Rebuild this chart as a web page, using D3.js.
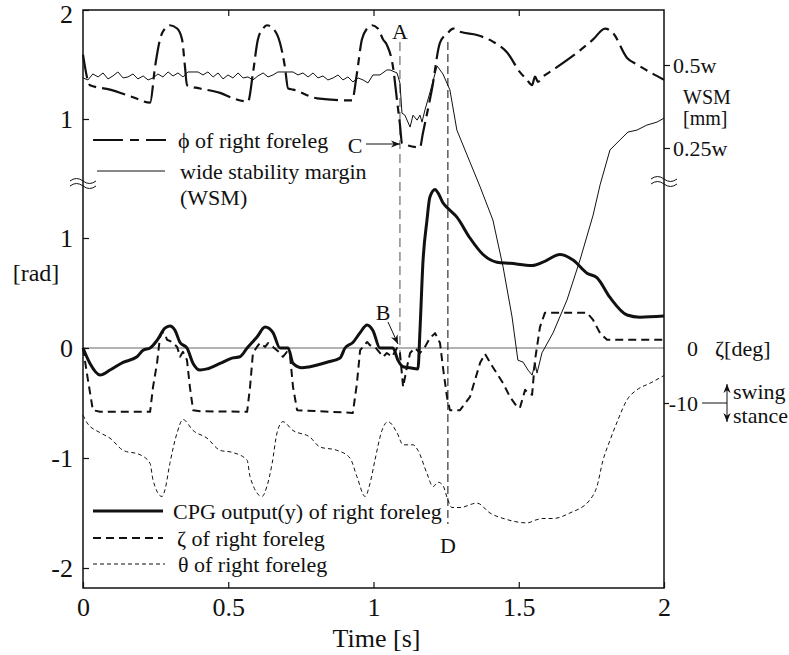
<!DOCTYPE html>
<html>
<head>
<meta charset="utf-8">
<script src="https://cdn.jsdelivr.net/npm/d3@7"></script>
<style>
  body { margin: 0; background: #fff; }
  text { font-family: "Liberation Serif", "Times New Roman", serif; fill: #111; }
</style>
</head>
<body>
<div id="chart"></div>
<script>
// ---- data: [time s, value] ----
// phi of right foreleg [rad], upper panel
const PHI = [[0,1.59],[.024,1.31],[.093,1.27],[.172,1.20],[.231,1.15],[.248,1.48],[.265,1.73],[.282,1.83],[.299,1.86],
  [.324,1.83],[.341,1.73],[.351,1.48],[.358,1.31],[.403,1.28],[.472,1.24],[.516,1.19],[.568,1.16],[.585,1.42],[.602,1.73],
  [.620,1.83],[.633,1.86],[.654,1.83],[.678,1.70],[.695,1.48],[.706,1.28],[.723,1.27],[.806,1.19],[.926,1.17],[.943,1.42],
  [.960,1.73],[.978,1.83],[.995,1.86],[1.015,1.83],[1.033,1.73],[1.046,1.68],[1.067,1.48],[1.081,1.17],[1.091,0.95],
  [1.098,0.78],[1.160,0.74],[1.170,0.87],[1.201,1.27],[1.229,1.70],[1.256,1.79],[1.274,1.83],[1.298,1.80],[1.356,1.77],
  [1.411,1.71],[1.460,1.61],[1.504,1.43],[1.528,1.36],[1.546,1.31],[1.556,1.39],[1.566,1.34],[1.580,1.38],[1.618,1.45],
  [1.711,1.63],[1.756,1.73],[1.797,1.83],[1.824,1.79],[1.873,1.56],[1.907,1.50],[2.0,1.36]];

// wide stability margin [fraction of w]
const WSM = [[0,.461],[.017,.455],[.034,.473],[.052,.464],[.069,.476],[.086,.458],[.103,.467],[.120,.479],[.138,.461],
  [.155,.464],[.172,.473],[.189,.458],[.207,.467],[.224,.455],[.241,.461],[.258,.473],[.275,.464],[.293,.479],[.310,.467],
  [.327,.476],[.344,.464],[.361,.479],[.379,.479],[.396,.479],[.413,.470],[.430,.479],[.448,.464],[.465,.476],[.482,.458],
  [.499,.470],[.516,.461],[.534,.476],[.551,.461],[.568,.464],[.585,.455],[.602,.467],[.620,.476],[.637,.464],[.654,.470],
  [.671,.479],[.688,.479],[.706,.479],[.723,.479],[.740,.470],[.757,.476],[.775,.464],[.792,.476],[.809,.461],[.826,.467],
  [.843,.455],[.861,.461],[.878,.470],[.895,.455],[.912,.464],[.929,.449],[.947,.461],[.964,.455],[.981,.446],[.998,.470],
  [1.022,.470],[1.046,.485],[1.057,.485],[1.081,.476],[1.091,.446],[1.098,.355],[1.108,.349],[1.126,.313],[1.136,.349],
  [1.150,.334],[1.160,.349],[1.167,.328],[1.177,.364],[1.194,.416],[1.219,.497],[1.239,.473],[1.263,.425],[1.287,.304],
  [1.322,.229],[1.367,.133],[1.411,.033],[1.446,-.108],[1.477,-.259],[1.497,-.389],[1.515,-.395],[1.532,-.419],
  [1.546,-.434],[1.556,-.398],[1.563,-.428],[1.580,-.367],[1.618,-.307],[1.666,-.208],[1.711,-.087],[1.756,.048],
  [1.780,.139],[1.814,.244],[1.848,.274],[1.876,.298],[1.907,.304],[1.941,.319],[1.976,.328],[2.0,.340]];

// CPG output (y) of right foreleg [rad], lower panel
const CPG = [[0,0],[.024,-.14],[.059,-.245],[.093,-.20],[.138,-.13],[.186,-.08],[.207,-.02],[.231,0],[.255,.07],
  [.282,.18],[.299,.20],[.317,.16],[.334,.05],[.358,0],[.379,-.14],[.403,-.20],[.427,-.19],[.472,-.14],[.516,-.09],
  [.540,-.08],[.565,0],[.599,.10],[.627,.19],[.654,.14],[.678,0],[.706,0],[.723,-.14],[.754,-.18],[.781,-.17],
  [.840,-.13],[.885,-.09],[.902,0],[.929,.05],[.954,.14],[.978,.21],[.998,.16],[1.022,0],[1.067,0],[1.084,-.11],
  [1.102,-.17],[1.126,-.18],[1.153,-.19],[1.160,.16],[1.170,.77],[1.184,1.16],[1.194,1.37],[1.212,1.44],[1.222,1.41],
  [1.239,1.32],[1.256,1.27],[1.287,1.19],[1.332,1.0],[1.377,.85],[1.425,.78],[1.470,.77],[1.546,.75],[1.583,.78],
  [1.642,.85],[1.687,.80],[1.735,.68],[1.769,.64],[1.814,.46],[1.873,.30],[1.917,.28],[2.0,.29]];

// zeta of right foreleg [deg], right axis
const ZETA = [[0,0],[.017,-5.8],[.034,-11.3],[.059,-11.6],[.231,-11.6],[.241,-7.1],[.255,-2.7],[.265,2.0],[.272,2.9],
  [.282,2.7],[.289,1.5],[.306,1.1],[.324,.2],[.334,-1.6],[.344,-.7],[.358,-2.2],[.368,-7.1],[.379,-11.3],[.403,-11.5],
  [.565,-11.6],[.575,-7.1],[.585,-.9],[.599,.2],[.609,.9],[.627,.2],[.637,.9],[.654,.2],[.678,-.9],[.688,-1.6],
  [.702,-.7],[.713,-1.6],[.723,-7.1],[.737,-11.3],[.929,-11.8],[.943,-6.4],[.954,-.4],[.964,.2],[.978,1.1],[.988,.5],
  [1.005,.2],[1.022,-.9],[1.033,-1.6],[1.046,-.9],[1.064,-1.6],[1.081,0],[1.091,-.9],[1.102,-7.1],[1.115,-3.5],
  [1.126,-.9],[1.143,0],[1.160,-.9],[1.177,.2],[1.194,1.8],[1.212,2.7],[1.229,.9],[1.239,-3.5],[1.253,-8.9],
  [1.263,-11.3],[1.298,-11.3],[1.332,-8.9],[1.367,-2.7],[1.384,-1.1],[1.411,-3.5],[1.446,-6.4],[1.470,-8.9],
  [1.494,-10.7],[1.504,-10.9],[1.522,-7.6],[1.532,-8.2],[1.546,-8.5],[1.556,-2.2],[1.573,3.8],[1.590,6.4],
  [1.735,6.4],[1.756,5.1],[1.780,2.7],[1.804,1.5],[1.848,1.5],[2.0,1.5]];

// theta of right foreleg [rad], lower panel
const THETA = [[0,-.61],[.014,-.68],[.059,-.77],[.093,-.82],[.138,-.93],[.196,-.97],[.231,-1.05],[.241,-1.20],
  [.272,-1.35],[.282,-1.29],[.299,-1.05],[.324,-.77],[.344,-.65],[.379,-.75],[.427,-.82],[.472,-.93],[.516,-.95],
  [.565,-1.02],[.575,-1.17],[.616,-1.35],[.633,-1.26],[.651,-1.05],[.668,-.77],[.688,-.67],[.723,-.75],[.781,-.81],
  [.816,-.90],[.874,-.93],[.919,-1.0],[.943,-1.17],[.971,-1.35],[.988,-1.23],[1.005,-1.02],[1.029,-.75],[1.050,-.67],
  [1.081,-.77],[1.102,-.88],[1.136,-.88],[1.153,-.93],[1.184,-1.14],[1.205,-1.26],[1.222,-1.22],[1.239,-1.25],
  [1.256,-1.38],[1.270,-1.45],[1.298,-1.45],[1.356,-1.41],[1.401,-1.50],[1.460,-1.56],[1.528,-1.59],[1.563,-1.56],
  [1.583,-1.55],[1.618,-1.55],[1.676,-1.50],[1.745,-1.38],[1.769,-1.26],[1.790,-1.02],[1.814,-.84],[1.842,-.65],
  [1.873,-.47],[1.907,-.38],[1.952,-.32],[2.0,-.25]];

// tick values and labels
const X_TICKS = [0, 0.5, 1, 1.5, 2];
const Y_TOP_TICKS = [1, 2];
const Y_BOT_TICKS = [-2, -1, 0, 1];
const WSM_TICKS = [0.25, 0.5];
const ZETA_TICKS = [-10, 0];
// event markers A and D (time s)
const EVENT_TIMES = [1.091, 1.256];

// ---- frame ----
const FRAME_WIDTH = 789;
const FRAME_HEIGHT = 655;
const MARGINS = {left: 83, right: 125, top: 10, bottom: 67};
const VIS_WIDTH = FRAME_WIDTH - MARGINS.left - MARGINS.right;
const VIS_HEIGHT = FRAME_HEIGHT - MARGINS.top - MARGINS.bottom;

const SVG = d3.select("#chart")
  .append("svg")
    .attr("width", FRAME_WIDTH)
    .attr("height", FRAME_HEIGHT);

const FRAME = SVG.append("g")
  .attr("transform", "translate(" + MARGINS.left + "," + MARGINS.top + ")");

// scales: broken left axis -> two panels sharing one pixel column
const X_SCALE = d3.scaleLinear().domain([0, 2]).range([0, VIS_WIDTH]);
const Y_TOP = d3.scaleLinear().domain([1, 2]).range([109, 0]);
const Y_BOT = d3.scaleLinear().domain([-2, 1]).range([558, 228]);
const Y_WSM = d3.scaleLinear().domain([0.25, 0.5]).range([138, 55]);
const Y_ZETA = d3.scaleLinear().domain([-10, 0]).range([393, 338]);

SVG.append("defs").append("marker")
    .attr("id", "arrow")
    .attr("viewBox", "0 0 10 10")
    .attr("refX", 10).attr("refY", 5)
    .attr("markerWidth", 9).attr("markerHeight", 9)
    .attr("orient", "auto-start-reverse")
  .append("path")
    .attr("d", "M0,1 L10,5 L0,9 L3,5 Z")
    .attr("fill", "#111");

// zero line
FRAME.append("line")
  .attr("x1", 0).attr("x2", VIS_WIDTH)
  .attr("y1", Y_BOT(0)).attr("y2", Y_BOT(0))
  .attr("stroke", "#666").attr("stroke-width", 1);

// event lines A and D
FRAME.append("line")
  .attr("x1", X_SCALE(EVENT_TIMES[0])).attr("x2", X_SCALE(EVENT_TIMES[0]))
  .attr("y1", 32).attr("y2", Y_BOT(-0.12))
  .attr("stroke", "#777").attr("stroke-width", 1.3).attr("stroke-dasharray", "9,5");
FRAME.append("line")
  .attr("x1", X_SCALE(EVENT_TIMES[1])).attr("x2", X_SCALE(EVENT_TIMES[1]))
  .attr("y1", 32).attr("y2", Y_BOT(-1.6))
  .attr("stroke", "#333").attr("stroke-width", 1.2).attr("stroke-dasharray", "8,4");

// series
function draw_series(data, yScale, curve, width, dash) {
  const line = d3.line()
    .x((d) => { return X_SCALE(d[0]); })
    .y((d) => { return yScale(d[1]); })
    .curve(curve);
  FRAME.append("path")
    .datum(data)
    .attr("d", line)
    .attr("fill", "none")
    .attr("stroke", "#111")
    .attr("stroke-width", width)
    .attr("stroke-linejoin", "round")
    .attr("stroke-dasharray", dash);
}
draw_series(THETA, Y_BOT, d3.curveMonotoneX, 1, "4,3");
draw_series(ZETA, Y_ZETA, d3.curveLinear, 2, "8,5");
draw_series(WSM, Y_WSM, d3.curveLinear, 1, null);
draw_series(CPG, Y_BOT, d3.curveMonotoneX, 3, null);
draw_series(PHI, Y_TOP, d3.curveMonotoneX, 2.2, "24,6,8,6");

// axes
function style_axis(sel, size) {
  sel.attr("font-size", null).attr("font-family", null);
  sel.select(".domain").remove();
  sel.selectAll(".tick line").attr("stroke", "#111").attr("stroke-width", 1.2);
  sel.selectAll(".tick text").style("font-size", size + "px").attr("fill", "#111");
}
const fmt = (d) => { return String(d); };

const TOP_AXIS = FRAME.append("g")
  .call(d3.axisLeft(Y_TOP).tickValues(Y_TOP_TICKS).tickSize(-6).tickPadding(10).tickFormat(fmt))
  .call(style_axis, 26);
// keep the top "2" inside the page
TOP_AXIS.selectAll(".tick text").filter((d) => { return d === 2; }).attr("dy", "0.48em");
FRAME.append("g")
  .call(d3.axisLeft(Y_BOT).tickValues(Y_BOT_TICKS).tickSize(-6).tickPadding(10).tickFormat(fmt))
  .call(style_axis, 26);
FRAME.append("g")
  .attr("transform", "translate(0," + VIS_HEIGHT + ")")
  .call(d3.axisBottom(X_SCALE).tickValues(X_TICKS).tickSize(-6).tickPadding(10).tickFormat(fmt))
  .call(style_axis, 26);
FRAME.append("g")
  .call(d3.axisTop(X_SCALE).tickValues(X_TICKS.slice(1, 4)).tickSize(-6).tickFormat(""))
  .call(style_axis, 26);
FRAME.append("g")
  .attr("transform", "translate(" + VIS_WIDTH + ",0)")
  .call(d3.axisRight(Y_WSM).tickValues(WSM_TICKS).tickSize(6).tickPadding(3).tickFormat((d) => { return d + "w"; }))
  .call(style_axis, 22);
const ZETA_AXIS = FRAME.append("g")
  .attr("transform", "translate(" + VIS_WIDTH + ",0)")
  .call(d3.axisRight(Y_ZETA).tickValues(ZETA_TICKS).tickSize(5).tickPadding(3).tickFormat(fmt))
  .call(style_axis, 22);
ZETA_AXIS.selectAll(".tick text").attr("x", 34).attr("text-anchor", "end");
ZETA_AXIS.selectAll(".tick line").filter((d) => { return d === 0; }).remove();

// frame box
FRAME.append("rect")
  .attr("width", VIS_WIDTH).attr("height", VIS_HEIGHT)
  .attr("fill", "none").attr("stroke", "#111").attr("stroke-width", 1.5);

// break marks
[[0, 173], [VIS_WIDTH, 171]].forEach((p) => {
  FRAME.append("path")
    .attr("d", "M" + (p[0] - 13) + "," + (p[1] - 2) + " q6.5,-5 13,0 t13,0 M" +
      (p[0] - 13) + "," + (p[1] + 3) + " q6.5,-5 13,0 t13,0")
    .attr("fill", "none").attr("stroke", "#111").attr("stroke-width", 1);
});

// axis titles
FRAME.append("text")
  .attr("x", VIS_WIDTH / 2 + 3).attr("y", 628)
  .attr("text-anchor", "middle").attr("dominant-baseline", "central")
  .style("font-size", "26px")
  .text("Time [s]");
FRAME.append("text")
  .attr("x", -47).attr("y", 263)
  .attr("text-anchor", "middle").attr("dominant-baseline", "central")
  .style("font-size", "24px")
  .text("[rad]");

// right side labels
const RIGHT_LABELS = [
  {x: 600, y: 87, t: "WSM", s: 20},
  {x: 600, y: 108, t: "[mm]", s: 20},
  {x: 632, y: 338, t: "ζ[deg]", s: 22},
  {x: 650, y: 381, t: "swing", s: 22},
  {x: 650, y: 405, t: "stance", s: 22}
];
FRAME.selectAll(".rlabel")
  .data(RIGHT_LABELS)
  .enter()
  .append("text")
    .attr("x", (d) => { return d.x; })
    .attr("y", (d) => { return d.y; })
    .attr("dominant-baseline", "central")
    .style("font-size", (d) => { return d.s + "px"; })
    .text((d) => { return d.t; });

// swing / stance arrow
FRAME.append("line")
  .attr("x1", 619).attr("x2", 644)
  .attr("y1", Y_ZETA(-10)).attr("y2", Y_ZETA(-10))
  .attr("stroke", "#111").attr("stroke-width", 1);
FRAME.append("line")
  .attr("x1", 644).attr("x2", 644)
  .attr("y1", 374).attr("y2", 412)
  .attr("stroke", "#111").attr("stroke-width", 1)
  .attr("marker-start", "url(#arrow)").attr("marker-end", "url(#arrow)");

// point labels A, B, C, D
const POINT_LABELS = [
  {x: X_SCALE(EVENT_TIMES[0]), y: 21, t: "A"},
  {x: 300, y: 302, t: "B"},
  {x: 272, y: 135, t: "C"},
  {x: X_SCALE(EVENT_TIMES[1]), y: 535, t: "D"}
];
FRAME.selectAll(".plabel")
  .data(POINT_LABELS)
  .enter()
  .append("text")
    .attr("x", (d) => { return d.x; })
    .attr("y", (d) => { return d.y; })
    .attr("text-anchor", "middle")
    .attr("dominant-baseline", "central")
    .style("font-size", "22px")
    .text((d) => { return d.t; });
FRAME.append("line")
  .attr("x1", 283).attr("y1", 134).attr("x2", 317).attr("y2", 134)
  .attr("stroke", "#111").attr("stroke-width", 1).attr("marker-end", "url(#arrow)");
FRAME.append("line")
  .attr("x1", 305).attr("y1", 312).attr("x2", 315).attr("y2", 334)
  .attr("stroke", "#111").attr("stroke-width", 1).attr("marker-end", "url(#arrow)");

// legends
const LEGEND = [
  {x1: 10, x2: 83, y: 130, w: 2.2, dash: "30,7,9,7", tx: 95, t: "ϕ of right foreleg"},
  {x1: 14, x2: 82, y: 161, w: 1, dash: null, tx: 97, t: "wide stability margin"},
  {x1: 0, x2: 0, y: 187, w: 0, dash: null, tx: 97, t: "(WSM)"},
  {x1: 10, x2: 80, y: 501, w: 3, dash: null, tx: 90, t: "CPG output(y) of right foreleg"},
  {x1: 10, x2: 80, y: 528, w: 2, dash: "8,5", tx: 94, t: "ζ of right foreleg"},
  {x1: 10, x2: 82, y: 554, w: 1, dash: "4,3", tx: 95, t: "θ of right foreleg"}
];
LEGEND.forEach((d) => {
  if (d.w > 0) {
    FRAME.append("line")
      .attr("x1", d.x1).attr("x2", d.x2).attr("y1", d.y).attr("y2", d.y)
      .attr("stroke", "#111").attr("stroke-width", d.w)
      .attr("stroke-dasharray", d.dash);
  }
  FRAME.append("text")
    .attr("x", d.tx).attr("y", d.y)
    .attr("dominant-baseline", "central")
    .style("font-size", "22px")
    .text(d.t);
});
</script>
</body>
</html>
